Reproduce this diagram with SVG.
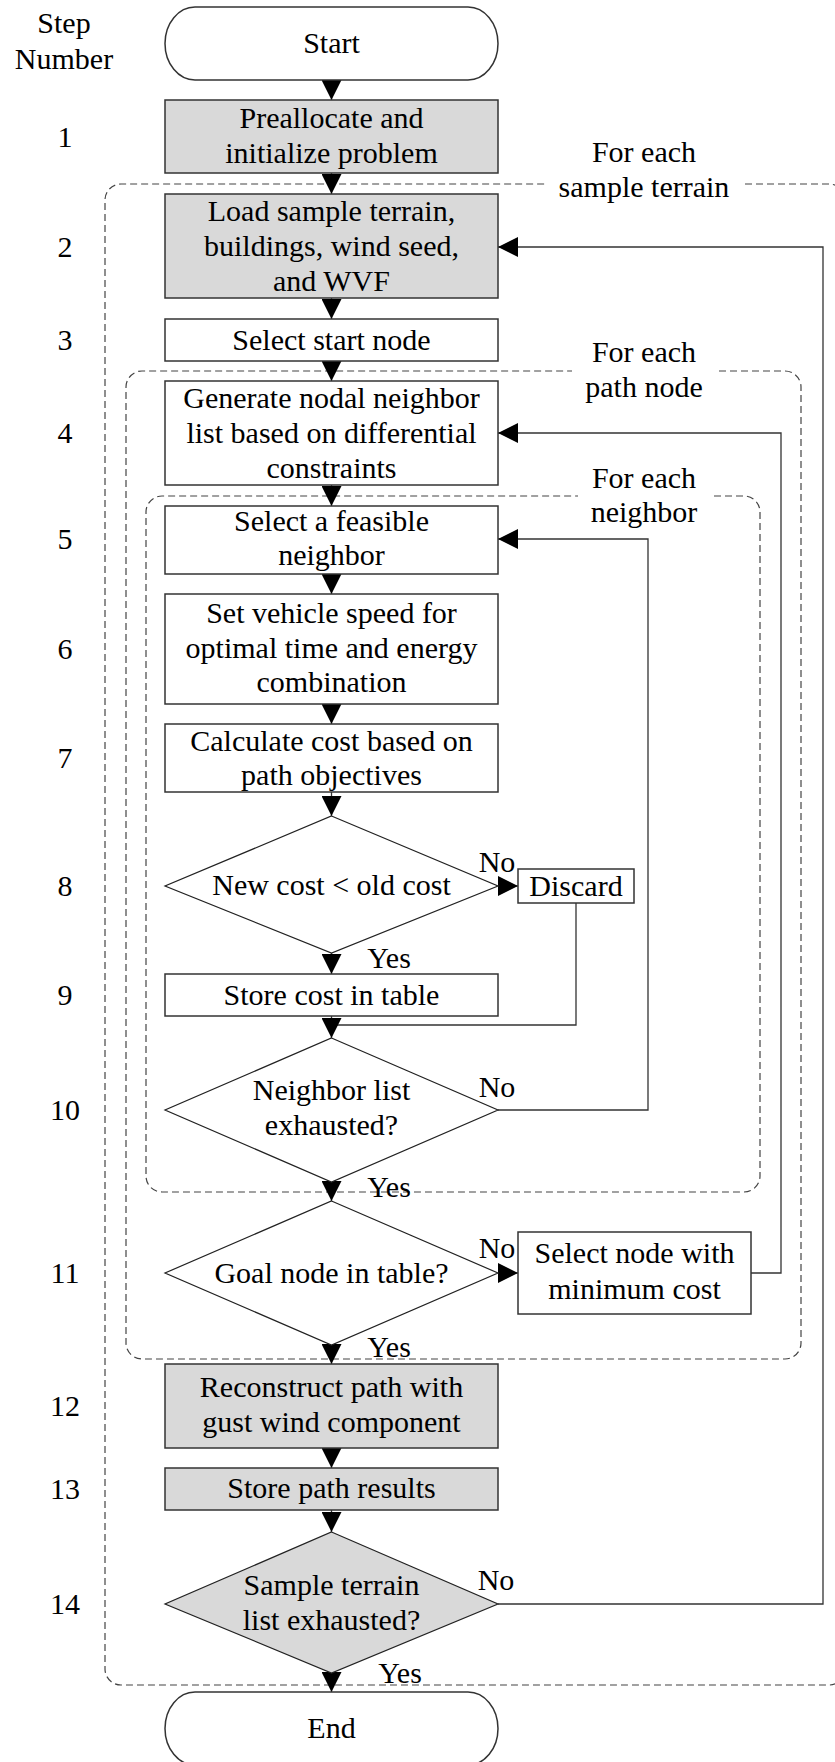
<svg xmlns="http://www.w3.org/2000/svg" width="835" height="1762" viewBox="0 0 835 1762">
  <style>
    text { font-family: "Liberation Serif", "Times New Roman", serif; font-size: 30px; fill: #000; text-anchor: middle; }
    .box { fill: #fff; stroke: #333; stroke-width: 1.5; }
    .dia { fill: #fff; stroke: #222; stroke-width: 1.2; }
    .box.shade, .dia.shade { fill: #d9d9d9; }
    .loop { fill: none; stroke: #444; stroke-width: 1.2; stroke-dasharray: 7 4; }
    .wire { fill: none; stroke: #333; stroke-width: 1.3; }
  </style>
  <defs>
    <marker id="arr" viewBox="0 0 20 20" refX="20" refY="10" markerWidth="20" markerHeight="20" markerUnits="userSpaceOnUse" orient="auto">
      <path d="M0,0 L20,10 L0,20 Z" fill="#000"/>
    </marker>
  </defs>

  <rect width="835" height="1762" fill="#fff"/>

  <!-- step number column -->
  <g id="step-numbers">
    <text x="64" y="33">Step</text>
    <text x="64" y="69">Number</text>
    <text x="65" y="147">1</text>
    <text x="65" y="257">2</text>
    <text x="65" y="350">3</text>
    <text x="65" y="443">4</text>
    <text x="65" y="549">5</text>
    <text x="65" y="659">6</text>
    <text x="65" y="768">7</text>
    <text x="65" y="896">8</text>
    <text x="65" y="1005">9</text>
    <text x="65" y="1120">10</text>
    <text x="65" y="1283">11</text>
    <text x="65" y="1416">12</text>
    <text x="65" y="1499">13</text>
    <text x="65" y="1614">14</text>
  </g>

  <!-- loop frames (dashed, open where the caption sits) -->
  <g id="loop-terrain">
    <path class="loop" d="M745,184 H829 A16,16 0 0 1 845,200 V1669 A16,16 0 0 1 829,1685 H121 A16,16 0 0 1 105,1669 V200 A16,16 0 0 1 121,184 H548"/>
    <text x="644" y="162">For each</text>
    <text x="644" y="197">sample terrain</text>
  </g>
  <g id="loop-path-node">
    <path class="loop" d="M719,371 H785 A16,16 0 0 1 801,387 V1343 A16,16 0 0 1 785,1359 H142 A16,16 0 0 1 126,1343 V387 A16,16 0 0 1 142,371 H572"/>
    <text x="644" y="362">For each</text>
    <text x="644" y="397">path node</text>
  </g>
  <g id="loop-neighbor">
    <path class="loop" d="M714,496 H744 A16,16 0 0 1 760,512 V1176 A16,16 0 0 1 744,1192 H162 A16,16 0 0 1 146,1176 V512 A16,16 0 0 1 162,496 H578"/>
    <text x="644" y="488">For each</text>
    <text x="644" y="522">neighbor</text>
  </g>

  <!-- connectors -->
  <g id="connectors">
    <path class="wire" d="M331.5,80 V100" marker-end="url(#arr)"/>
    <path class="wire" d="M331.5,173 V194" marker-end="url(#arr)"/>
    <path class="wire" d="M331.5,298 V319" marker-end="url(#arr)"/>
    <path class="wire" d="M331.5,361 V381" marker-end="url(#arr)"/>
    <path class="wire" d="M331.5,485 V506" marker-end="url(#arr)"/>
    <path class="wire" d="M331.5,574 V594" marker-end="url(#arr)"/>
    <path class="wire" d="M331.5,704 V724" marker-end="url(#arr)"/>
    <path class="wire" d="M331.5,792 V816" marker-end="url(#arr)"/>
    <path class="wire" d="M331.5,953 V974" marker-end="url(#arr)"/>
    <path class="wire" d="M498,886 H518" marker-end="url(#arr)"/>
    <path class="wire" d="M576,903 V1025 H331.5"/>
    <path class="wire" d="M331.5,1016 V1038" marker-end="url(#arr)"/>
    <path class="wire" d="M498,1110 H648 V539 H498" marker-end="url(#arr)"/>
    <path class="wire" d="M331.5,1182 V1201" marker-end="url(#arr)"/>
    <path class="wire" d="M498,1273 H518" marker-end="url(#arr)"/>
    <path class="wire" d="M751,1273 H781 V433 H498" marker-end="url(#arr)"/>
    <path class="wire" d="M331.5,1345 V1364" marker-end="url(#arr)"/>
    <path class="wire" d="M331.5,1448 V1468" marker-end="url(#arr)"/>
    <path class="wire" d="M331.5,1510 V1532" marker-end="url(#arr)"/>
    <path class="wire" d="M498,1604 H823 V247 H498" marker-end="url(#arr)"/>
    <path class="wire" d="M331.5,1673 V1692" marker-end="url(#arr)"/>
    <!-- branch labels -->
    <text x="497" y="872">No</text>
    <text x="389" y="968">Yes</text>
    <text x="497" y="1097">No</text>
    <text x="389" y="1197">Yes</text>
    <text x="497" y="1258">No</text>
    <text x="389" y="1357">Yes</text>
    <text x="496" y="1590">No</text>
    <text x="400" y="1683">Yes</text>
  </g>

  <!-- nodes -->
  <g id="start">
    <rect class="box" x="165" y="7" width="333" height="73" rx="30" ry="36.5"/>
    <text x="331.5" y="53">Start</text>
  </g>
  <g id="step1">
    <rect class="box shade" x="165" y="100" width="333" height="73"/>
    <text x="331.5" y="128">Preallocate and</text>
    <text x="331.5" y="163">initialize problem</text>
  </g>
  <g id="step2">
    <rect class="box shade" x="165" y="194" width="333" height="104"/>
    <text x="331.5" y="221">Load sample terrain,</text>
    <text x="331.5" y="256">buildings, wind seed,</text>
    <text x="331.5" y="291">and WVF</text>
  </g>
  <g id="step3">
    <rect class="box" x="165" y="319" width="333" height="42"/>
    <text x="331.5" y="350">Select start node</text>
  </g>
  <g id="step4">
    <rect class="box" x="165" y="381" width="333" height="104"/>
    <text x="331.5" y="408">Generate nodal neighbor</text>
    <text x="331.5" y="443">list based on differential</text>
    <text x="331.5" y="478">constraints</text>
  </g>
  <g id="step5">
    <rect class="box" x="165" y="506" width="333" height="68"/>
    <text x="331.5" y="531">Select a feasible</text>
    <text x="331.5" y="565">neighbor</text>
  </g>
  <g id="step6">
    <rect class="box" x="165" y="594" width="333" height="110"/>
    <text x="331.5" y="623">Set vehicle speed for</text>
    <text x="331.5" y="658">optimal time and energy</text>
    <text x="331.5" y="692">combination</text>
  </g>
  <g id="step7">
    <rect class="box" x="165" y="724" width="333" height="68"/>
    <text x="331.5" y="751">Calculate cost based on</text>
    <text x="331.5" y="785">path objectives</text>
  </g>
  <g id="step8">
    <polygon class="dia" points="331.5,816 498,886 331.5,953 165,886"/>
    <text x="331.5" y="895">New cost &lt; old cost</text>
  </g>
  <g id="discard">
    <rect class="box" x="518" y="869" width="116" height="34"/>
    <text x="576" y="896">Discard</text>
  </g>
  <g id="step9">
    <rect class="box" x="165" y="974" width="333" height="42"/>
    <text x="331.5" y="1005">Store cost in table</text>
  </g>
  <g id="step10">
    <polygon class="dia" points="331.5,1038 498,1110 331.5,1182 165,1110"/>
    <text x="331.5" y="1100">Neighbor list</text>
    <text x="331.5" y="1135">exhausted?</text>
  </g>
  <g id="step11">
    <polygon class="dia" points="331.5,1201 498,1273 331.5,1345 165,1273"/>
    <text x="331.5" y="1283">Goal node in table?</text>
  </g>
  <g id="select-min">
    <rect class="box" x="518" y="1232" width="233" height="82"/>
    <text x="634.5" y="1263">Select node with</text>
    <text x="634.5" y="1299">minimum cost</text>
  </g>
  <g id="step12">
    <rect class="box shade" x="165" y="1364" width="333" height="84"/>
    <text x="331.5" y="1397">Reconstruct path with</text>
    <text x="331.5" y="1432">gust wind component</text>
  </g>
  <g id="step13">
    <rect class="box shade" x="165" y="1468" width="333" height="42"/>
    <text x="331.5" y="1498">Store path results</text>
  </g>
  <g id="step14">
    <polygon class="dia shade" points="331.5,1532 498,1604 331.5,1673 165,1604"/>
    <text x="331.5" y="1595">Sample terrain</text>
    <text x="331.5" y="1630">list exhausted?</text>
  </g>
  <g id="end">
    <rect class="box" x="165" y="1692" width="333" height="73" rx="30" ry="36.5"/>
    <text x="331.5" y="1738">End</text>
  </g>
</svg>
